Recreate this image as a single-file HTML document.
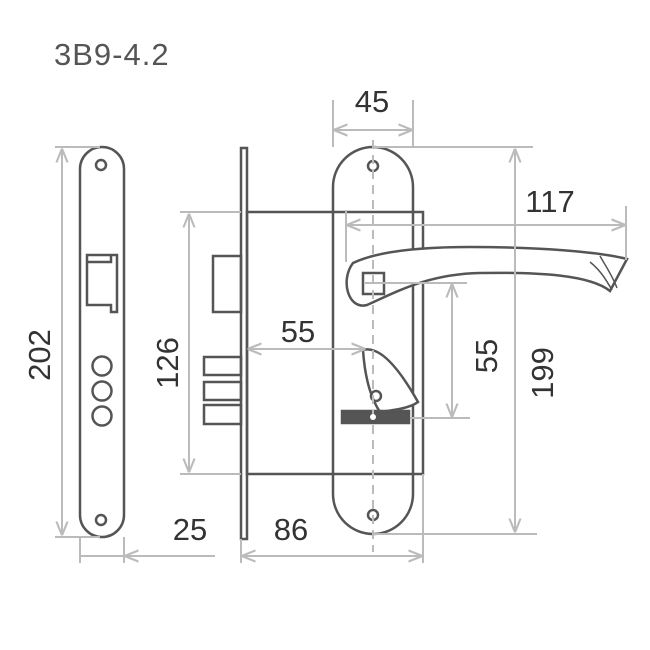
<!DOCTYPE html><html><head><style>body{margin:0;background:#fff}svg{display:block}text{font-family:"Liberation Sans",sans-serif;fill:#333}</style></head><body>
<svg width="650" height="650" viewBox="0 0 650 650" xmlns="http://www.w3.org/2000/svg">
<defs><marker id="a" viewBox="0 0 10 10" refX="9" refY="5" markerWidth="7" markerHeight="7" orient="auto-start-reverse"><path d="M0,1 L10,5 L0,9" fill="none" stroke="#bbb" stroke-width="1.5"/></marker></defs>
<text x="54" y="65" font-size="31" letter-spacing="1" style="fill:#555">3В9-4.2</text>
<g stroke="#555" stroke-width="2.5" fill="none">
<path d="M80,169 A22,22 0 0 1 124,169 L124,515 A22,22 0 0 1 80,515 Z"/>
<circle cx="101" cy="165" r="5"/><circle cx="101" cy="520" r="5"/>
<path d="M87,255 L117,255 L117,312 L111,312 L111,305 L87,305 Z M111,255 L111,262 L87,262"/>
<circle cx="102" cy="366" r="9.5"/><circle cx="102" cy="391" r="9.5"/><circle cx="102" cy="416" r="9.5"/>
<rect x="241" y="148" width="6" height="391"/>
<rect x="247" y="212" width="176" height="262"/>
<rect x="213" y="256" width="28" height="56"/>
<rect x="204" y="357" width="37" height="18"/><rect x="204" y="382" width="37" height="18"/><rect x="204" y="405" width="37" height="19"/>
<path d="M333,187 A40,40 0 0 1 413,187 L413,494 A40,40 0 0 1 333,494 Z"/>
<circle cx="373" cy="166" r="5"/><circle cx="373" cy="515" r="5"/>
<path d="M353,263 C380,250 430,247 470,247 C540,247 600,252 627,259 L610,291 C590,275 540,272 480,273 C430,274 400,290 367,305 C348,310 340,280 353,263 Z" fill="#fff"/>
<path d="M600,256 C605,265 612,275 617,288 M590,262 C600,270 605,278 612,290" stroke-width="1.5"/>
<rect x="363" y="273" width="21" height="21"/>
<path d="M363,350 C380,345 400,370 418,402 C410,408 395,410 380,412 C372,400 365,380 363,350 Z" fill="#fff"/>
<circle cx="376" cy="396" r="5"/>
<rect x="342" y="411" width="67" height="12" fill="#555"/>
</g>
<g stroke="#bbb" stroke-width="2" fill="none">
<line x1="55" y1="147" x2="100" y2="147"/><line x1="55" y1="537" x2="100" y2="537"/>
<line x1="62" y1="150" x2="62" y2="534" marker-start="url(#a)" marker-end="url(#a)"/>
<line x1="80" y1="537" x2="80" y2="563"/><line x1="124" y1="537" x2="124" y2="563"/>
<line x1="80" y1="556" x2="124" y2="556"/><line x1="215" y1="556" x2="126" y2="556" marker-end="url(#a)"/>
<line x1="180" y1="212" x2="241" y2="212"/><line x1="180" y1="474" x2="241" y2="474"/>
<line x1="189" y1="215" x2="189" y2="471" marker-start="url(#a)" marker-end="url(#a)"/>
<line x1="241" y1="539" x2="241" y2="563"/><line x1="423" y1="474" x2="423" y2="563"/>
<line x1="243" y1="556" x2="421" y2="556" marker-start="url(#a)" marker-end="url(#a)"/>
<line x1="249" y1="349" x2="364" y2="349" marker-start="url(#a)" marker-end="url(#a)"/>
<line x1="333" y1="100" x2="333" y2="147"/><line x1="413" y1="100" x2="413" y2="147"/>
<line x1="335" y1="130" x2="411" y2="130" marker-start="url(#a)" marker-end="url(#a)"/>
<line x1="346" y1="210" x2="346" y2="262"/><line x1="626" y1="206" x2="626" y2="260"/>
<line x1="348" y1="225" x2="624" y2="225" marker-start="url(#a)" marker-end="url(#a)"/>
<line x1="373" y1="147" x2="533" y2="147"/><line x1="373" y1="534" x2="537" y2="534"/>
<line x1="515" y1="150" x2="515" y2="531" marker-start="url(#a)" marker-end="url(#a)"/>
<line x1="365" y1="283" x2="467" y2="283"/><line x1="410" y1="418" x2="470" y2="418"/>
<line x1="452" y1="285" x2="452" y2="416" marker-start="url(#a)" marker-end="url(#a)"/>
<line x1="373" y1="140" x2="373" y2="552" stroke-dasharray="9 6"/>
</g>
<circle cx="373" cy="417" r="3" fill="#fff"/>
<g font-size="31">
<text x="372" y="112" text-anchor="middle">45</text>
<text x="550" y="212" text-anchor="middle">117</text>
<text x="298" y="342" text-anchor="middle">55</text>
<text x="190" y="540" text-anchor="middle">25</text>
<text x="291" y="540" text-anchor="middle">86</text>
<text transform="translate(50 355) rotate(-90)" text-anchor="middle">202</text>
<text transform="translate(178 363) rotate(-90)" text-anchor="middle">126</text>
<text transform="translate(497 356) rotate(-90)" text-anchor="middle">55</text>
<text transform="translate(553 373) rotate(-90)" text-anchor="middle">199</text>
</g>
</svg></body></html>
